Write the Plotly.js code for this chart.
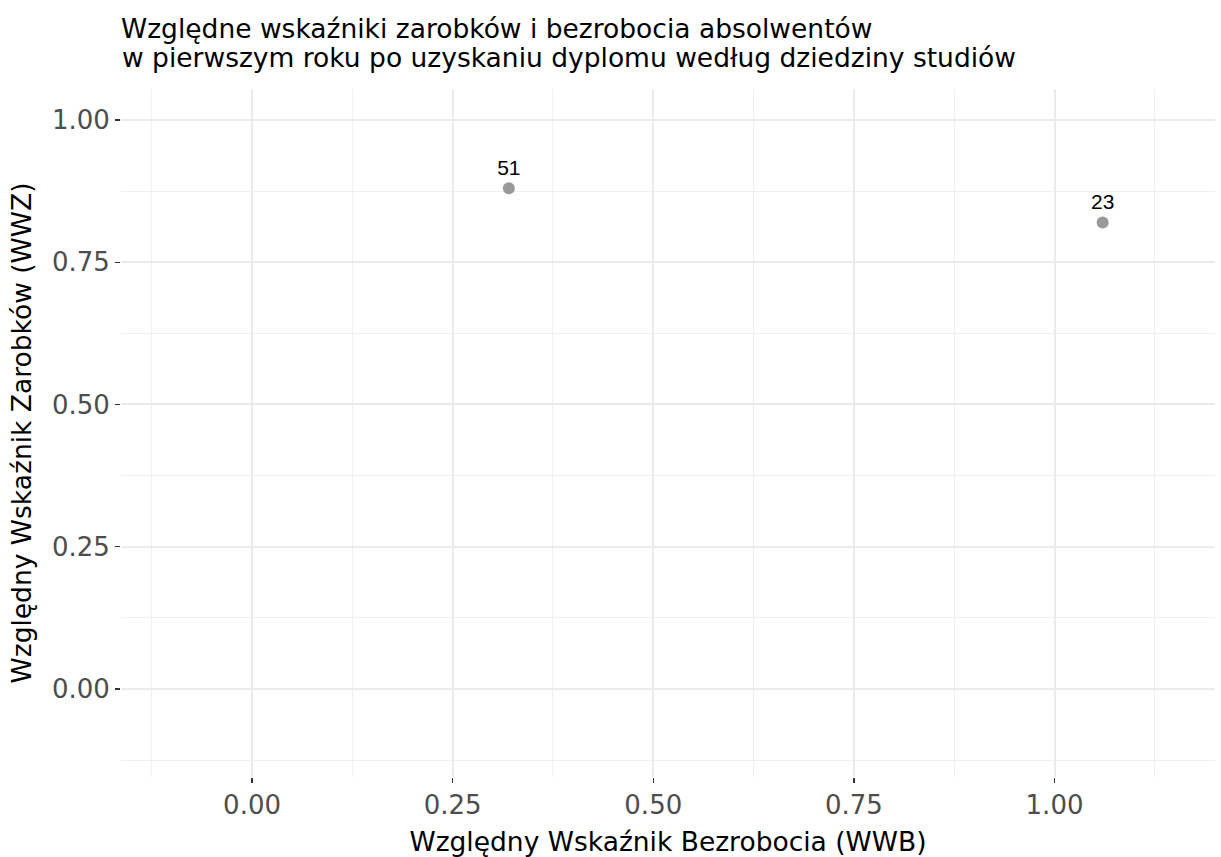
<!DOCTYPE html>
<html>
<head>
<meta charset="utf-8">
<script src="https://cdn.plot.ly/plotly-3.0.1.min.js"></script>
<style>html,body{margin:0;padding:0;background:#fff;}#chart{width:1221px;height:857px;}</style>
</head>
<body>
<div id="chart"></div>
<script>
const fieldLabels = ["51", "23"];
const unemploymentIndex = [0.32, 1.06];
const earningsIndex = [0.88, 0.82];
const tickVals = [0, 0.25, 0.5, 0.75, 1];
const tickText = ["0.00", "0.25", "0.50", "0.75", "1.00"];
const titleLine1 = "Względne wskaźniki zarobków i bezrobocia absolwentów";
const titleLine2 = "w pierwszym roku po uzyskaniu dyplomu według dziedziny studiów";
const xTitle = "Względny Wskaźnik Bezrobocia (WWB)";
const yTitle = "Względny Wskaźnik Zarobków (WWZ)";

const font = "DejaVu Sans, sans-serif";
const big = 26.5;

const trace = {
  x: unemploymentIndex,
  y: earningsIndex,
  text: fieldLabels,
  mode: "markers+text",
  type: "scatter",
  textposition: "top center",
  textfont: {family: "Liberation Sans, Arial, sans-serif", size: 21, color: "#000"},
  marker: {size: 12, color: "#999999", line: {width: 0}},
  hoverinfo: "x+y+text",
  showlegend: false,
  cliponaxis: false
};

const axisCommon = {
  tickvals: tickVals,
  ticktext: tickText,
  ticks: "outside",
  ticklen: 5,
  tickwidth: 1.5,
  tickcolor: "#333333",
  tickfont: {family: font, size: 26, color: "#4d4d4d"},
  showgrid: true,
  gridcolor: "#ebebeb",
  gridwidth: 2,
  zeroline: false,
  showline: false,
  minor: {dtick: 0.25, tick0: 0.125, showgrid: true, gridcolor: "#f0f0f0", gridwidth: 1, ticks: ""}
};

const layout = {
  width: 1221,
  height: 857,
  paper_bgcolor: "#fff",
  plot_bgcolor: "#fff",
  margin: {l: 121, r: 6, t: 89, b: 80},
  title: {
    text: titleLine1,
    x: 0, xref: "paper", xanchor: "left",
    y: 1 - 29 / 857, yref: "container", yanchor: "middle",
    font: {family: font, size: big, color: "#000"}
  },
  annotations: [{
    text: titleLine2,
    xref: "paper", yref: "paper",
    x: 0, y: 1, xanchor: "left", yanchor: "middle",
    yshift: 89 - 57, xshift: -1,
    showarrow: false,
    font: {family: font, size: big, color: "#000"}
  }],
  xaxis: Object.assign({}, axisCommon, {
    range: [-0.1633, 1.2],
    title: {text: xTitle, font: {family: font, size: big, color: "#000"}, standoff: 22}
  }),
  yaxis: Object.assign({}, axisCommon, {
    range: [-0.1547, 1.0545],
    title: {text: yTitle, font: {family: font, size: big, color: "#000"}, standoff: 12}
  })
};

Plotly.newPlot("chart", [trace], layout, {displayModeBar: false, staticPlot: true});
</script>
</body>
</html>
